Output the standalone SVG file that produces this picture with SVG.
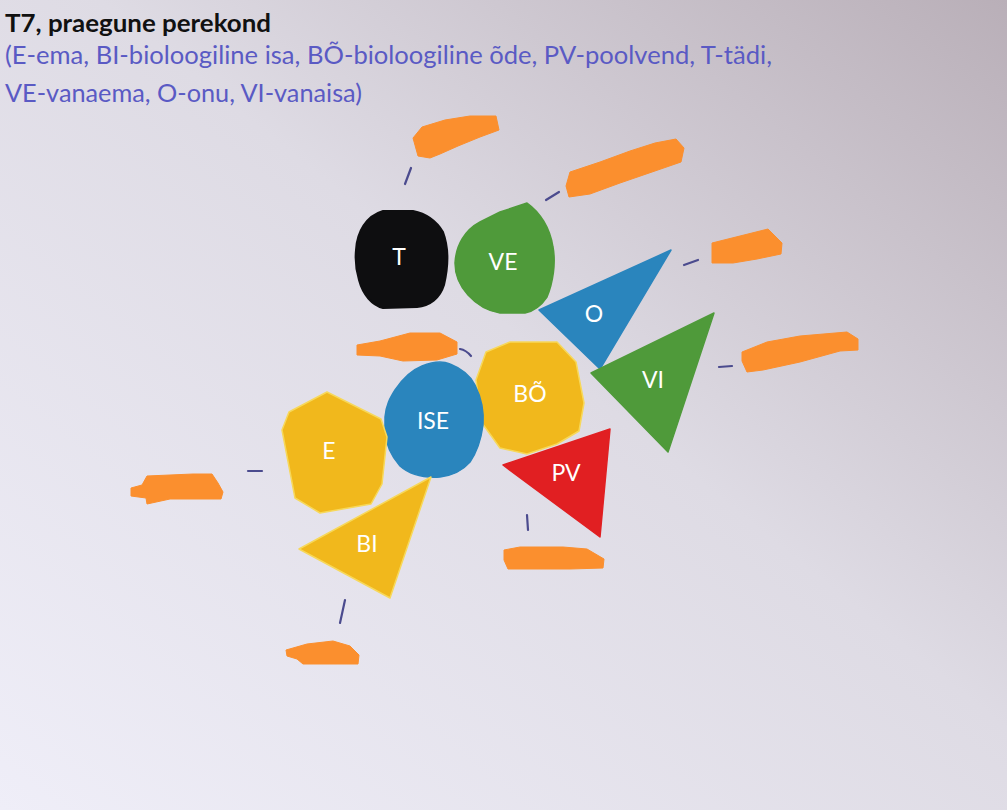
<svg xmlns="http://www.w3.org/2000/svg" width="1007" height="810" viewBox="0 0 1007 810">
  <defs>
    <linearGradient id="paper" x1="1" y1="0" x2="0" y2="1">
      <stop offset="0" stop-color="#b9afb8"/>
      <stop offset="0.45" stop-color="#dedbe4"/>
      <stop offset="1" stop-color="#efeef8"/>
    </linearGradient>
  </defs>
  <style>
    .title{font-family:"Lato","Liberation Sans",sans-serif;font-weight:bold;font-size:24px;fill:#111}
    .legend{font-family:"Lato","Liberation Sans",sans-serif;font-size:25px;fill:#5a5ac4}
    .lbl{font-family:"Lato","Open Sans","Liberation Sans",sans-serif;font-size:23px;fill:#fff;text-anchor:middle;dominant-baseline:central}
    .black{fill:#0e0e10;stroke:#0e0e10;stroke-width:2;stroke-linejoin:round}
    .green{fill:#4f9a3a;stroke:#4f9a3a;stroke-width:1.5;stroke-linejoin:round}
    .blue{fill:#2a85bd;stroke:#2a85bd;stroke-width:1.5;stroke-linejoin:round}
    .yellow{fill:#f1b81c;stroke:#f7d85a;stroke-width:1.5;stroke-linejoin:round}
    .red{fill:#e11f22;stroke:#e11f22;stroke-width:1.5;stroke-linejoin:round}
    .orange{fill:#fb8f2e;stroke:#fb8f2e;stroke-width:1;stroke-linejoin:round}
    .pen{stroke:#4b4b8e;stroke-width:2.2;stroke-linecap:round;fill:none}
  </style>
  <rect x="0" y="0" width="1007" height="810" fill="url(#paper)"/>

  <g id="heading">
    <text class="title" x="5" y="32" textLength="266" lengthAdjust="spacingAndGlyphs">T7, praegune perekond</text>
    <text class="legend" x="5" y="64" textLength="767" lengthAdjust="spacingAndGlyphs">(E-ema, BI-bioloogiline isa, BÕ-bioloogiline õde, PV-poolvend, T-tädi,</text>
    <text class="legend" x="5" y="102" textLength="357" lengthAdjust="spacingAndGlyphs">VE-vanaema, O-onu, VI-vanaisa)</text>
  </g>

  <g id="connectors">
    <line class="pen" x1="405" y1="184" x2="411" y2="168"/>
    <line class="pen" x1="546" y1="200" x2="559" y2="192"/>
    <line class="pen" x1="684" y1="265" x2="698" y2="260"/>
    <line class="pen" x1="719" y1="367" x2="732" y2="366"/>
    <path class="pen" d="M460,349 Q466,350 471,356"/>
    <line class="pen" x1="248" y1="471" x2="262" y2="471"/>
    <line class="pen" x1="527" y1="515" x2="528" y2="530"/>
    <line class="pen" x1="345" y1="600" x2="340" y2="623"/>
  </g>

  <g id="name-tags">
    <polygon class="orange" points="413,138 422,127 445,120 470,116 496,116 499,130 480,137 458,146 440,154 430,158 418,156"/>
    <polygon class="orange" points="566,186 570,172 600,162 630,151 655,143 676,139 684,148 681,162 652,172 620,183 590,194 569,197"/>
    <polygon class="orange" points="712,243 740,236 760,231 768,229 782,243 781,254 757,259 733,263 712,263"/>
    <polygon class="orange" points="742,352 767,342 800,336 847,332 858,339 858,350 840,351 800,362 763,370 747,372 742,361"/>
    <polygon class="orange" points="357,345 380,341 410,333 440,333 457,342 457,354 437,360 403,361 380,356 357,355"/>
    <polygon class="orange" points="131,488 142,485 147,476 193,474 212,474 218,483 223,492 221,499 170,499 147,504 146,498 131,496"/>
    <polygon class="orange" points="504,550 520,547 563,547 587,549 604,559 603,568 570,569 537,569 508,569 504,560"/>
    <polygon class="orange" points="286,650 307,644 333,641 350,646 359,655 358,664 330,664 303,664 297,659 287,656"/>
  </g>

  <g id="node-T">
    <path class="black" d="M356,250 C357,232 366,216 383,211 L413,211 C428,214 437,222 443,232 C449,248 448,268 444,285 C440,298 430,306 417,307 L383,308 C372,305 363,295 359,280 C356,270 355,260 356,250 Z"/>
    <text class="lbl" x="399" y="256">T</text>
  </g>

  <g id="node-VE">
    <path class="green" d="M455,263 C456,245 465,230 480,222 L500,212 L527,203 C540,212 550,228 553,247 C556,263 553,283 547,297 C541,306 534,311 525,313 L500,313 C488,311 478,306 468,295 C459,285 455,275 455,263 Z"/>
    <text class="lbl" x="503" y="261">VE</text>
  </g>

  <g id="node-O">
    <polygon class="blue" points="539,310 671,250 600,369"/>
    <text class="lbl" x="594" y="313">O</text>
  </g>

  <g id="node-VI">
    <polygon class="green" points="591,373 714,313 668,452"/>
    <text class="lbl" x="653" y="379">VI</text>
  </g>

  <g id="node-BO">
    <polygon class="yellow" points="476,380 486,352 510,342 557,342 576,362 584,403 579,431 557,444 527,454 500,448 482,423"/>
    <text class="lbl" x="530" y="393">BÕ</text>
  </g>

  <g id="node-ISE">
    <path class="blue" d="M385,417 C386,405 390,398 395,390 C403,378 412,370 422,366 C432,362 443,361 450,364 C460,368 470,375 475,385 C481,397 484,412 483,425 C481,440 477,452 470,462 C463,470 455,475 440,477 C425,478 410,475 400,466 C392,457 386,445 385,432 Z"/>
    <text class="lbl" x="433" y="420">ISE</text>
  </g>

  <g id="node-E">
    <polygon class="yellow" points="282,430 289,412 327,392 381,419 387,437 382,484 371,504 320,513 295,498"/>
    <text class="lbl" x="329" y="450">E</text>
  </g>

  <g id="node-BI">
    <polygon class="yellow" points="299,549 431,477 390,598"/>
    <text class="lbl" x="367" y="543">BI</text>
  </g>

  <g id="node-PV">
    <polygon class="red" points="503,465 610,429 600,537"/>
    <text class="lbl" x="566" y="472">PV</text>
  </g>
</svg>
